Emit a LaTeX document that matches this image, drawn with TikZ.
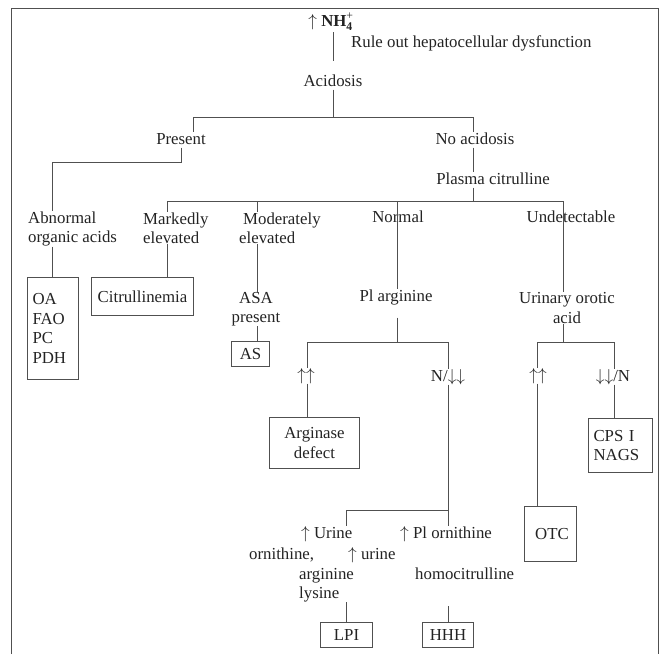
\documentclass[tikz,border=0pt]{standalone}
\usepackage{amsmath}
\usepackage{fontspec}
\setmainfont{Liberation Serif}
\usepackage{xcolor}
\definecolor{ink}{RGB}{35, 35, 35}
\definecolor{wire}{RGB}{80, 80, 80}
\usetikzlibrary{positioning}

\begin{document}
\begin{tikzpicture}[x=1pt, y=-1pt,
  every node/.style={font=\fontsize{16.8}{19.5}\selectfont, text=ink, inner sep=0pt},
  txt/.style={text height=11.5pt, text depth=3.5pt},
  box/.style={draw=wire, line width=1pt, inner xsep=5pt, inner ysep=3pt, anchor=north west},
  link/.style={draw=wire, line width=1pt}]
  \useasboundingbox (0,0) rectangle (660,654);
  % frame, open at the bottom
  \draw[link] (11,654) -- (11,8) -- (658,8) -- (658,654);

  % top of the tree
  \node[txt] (nh4) at (331,22) {$\uparrow$ \textbf{NH}$_{\textbf{4}}^{\text{+}}$};
  \node[txt, anchor=west] (rule) at (351,43) {Rule out hepatocellular dysfunction};
  \node[txt] (acid) at (333,82) {Acidosis};
  \node[txt] (present) at (181,140) {Present};
  \node[txt] (noacid) at (475,140) {No acidosis};
  \node[txt] (plasma) at (493,180) {Plasma citrulline};

  % plasma citrulline classes
  \node[align=left, anchor=west] (abn) at (28,229) {Abnormal\\organic acids};
  \node[align=left, anchor=west] (marked) at (143,228) {Markedly\\elevated};
  \node[align=left, anchor=west] (moder) at (239,228) {\hspace*{4pt}Moderately\\elevated};
  \node[txt] (normal) at (398,218) {Normal};
  \node[txt] (undet) at (571,218) {Undetectable};

  \node[box, text width=41pt, minimum height=102, align=left] (oa) at (27,277) {OA\\FAO\\PC\\PDH};
  \node[box, minimum width=102, minimum height=38] (cit) at (91,277) {Citrullinemia};
  \node[align=center] (asa) at (256,309) {ASA\\present};
  \node[box, minimum width=38, minimum height=25] (as) at (231,341) {AS};
  \node[txt] (plarg) at (396,297) {Pl arginine};
  \node[align=center] (uo) at (567,308) {Urinary orotic\\acid};

  % arginine and orotic acid results
  \node[txt] (upup1) at (306,376) {$\uparrow\uparrow$};
  \node[txt] (ndd) at (448,377) {N/$\downarrow\downarrow$};
  \node[box, minimum width=90, minimum height=51, align=center] (argdef) at (269,417) {Arginase\\defect};
  \node[txt] (upup2) at (538,376) {$\uparrow\uparrow$};
  \node[txt] (ddn) at (613,377) {$\downarrow\downarrow$/N};
  \node[box, text width=54pt, minimum height=54, align=left] (cps) at (588,418) {CPS I\\NAGS};
  \node[box, minimum width=52, minimum height=55] (otc) at (524,506) {\hspace*{3pt}OTC};

  % urine / plasma ornithine
  \node[txt, anchor=west] (urine1) at (301,534) {$\uparrow$ Urine};
  \node[txt, anchor=west] (orn) at (249,555) {ornithine,};
  \node[txt, anchor=west] (urine2) at (348,555) {$\uparrow$ urine};
  \node[txt, anchor=west] (argi) at (299,575) {arginine};
  \node[txt, anchor=west] (lys) at (299,594) {lysine};
  \node[txt, anchor=west] (plorn) at (400,534) {$\uparrow$ Pl ornithine};
  \node[txt, anchor=west] (homo) at (415,575) {homocitrulline};
  \node[box, minimum width=52, minimum height=25] (lpi) at (320,622) {LPI};
  \node[box, minimum width=51, minimum height=25] (hhh) at (422,622) {HHH};

  % bus points
  \coordinate (b1) at (333,117);
  \coordinate (b1l) at (193,117);
  \coordinate (b1r) at (473,117);
  \coordinate (b0) at (52,162);
  \coordinate (b2) at (473,201);
  \coordinate (dmark) at (167,201);
  \coordinate (dmod) at (257,201);
  \coordinate (dnorm) at (397,201);
  \coordinate (dund) at (563,201);
  \coordinate (b3) at (397,342);
  \coordinate (b3l) at (307,342);
  \coordinate (b3r) at (448,342);
  \coordinate (b5) at (563,342);
  \coordinate (b5l) at (537,342);
  \coordinate (b5r) at (614,342);
  \coordinate (b4l) at (346,510);
  \coordinate (b4r) at (448,510);

  % connectors
  \draw[link, shorten <=2.5pt, shorten >=13.5pt] (acid.north |- nh4.south) -- (acid.north);
  \draw[link] (acid.south) -- (b1);
  \draw[link] (b1l) -- (b1r);
  \draw[link] (b1l) -- (b1l |- present.north);
  \draw[link] (b1r) -- (b1r |- noacid.north);
  \draw[link] (present.south) |- (b0) -- (b0 |- abn.north);
  \draw[link] (b1r |- noacid.south) -- (b1r |- plasma.north);
  \draw[link] (b2 |- plasma.south) -- (b2);
  \draw[link] (dmark) -- (dund);
  \draw[link] (dmark) -- (dmark |- marked.north);
  \draw[link] (dmod) -- (dmod |- moder.north);
  \draw[link] (dnorm) -- (dnorm |- plarg.north);
  \draw[link] (dund) -- (dund |- uo.north);

  \draw[link] (b0 |- abn.south) -- (b0 |- oa.north);
  \draw[link] (dmark |- marked.south) -- (dmark |- cit.north);
  \draw[link] (dmod |- moder.south) -- (dmod |- asa.north);
  \draw[link] (dmod |- asa.south) -- (dmod |- as.north);

  \draw[link, shorten <=13pt] (dnorm |- plarg.south) -- (b3);
  \draw[link] (b3l) -- (b3r);
  \draw[link] (b3l) -- (b3l |- upup1.north);
  \draw[link] (b3r) -- (b3r |- ndd.north);
  \draw[link] (b3l |- upup1.south) -- (b3l |- argdef.north);
  \draw[link] (b3r |- ndd.south) -- (b4r);
  \draw[link] (b4r) -- (b4l) -- (b4l |- urine1.north);
  \draw[link] (b4r) -- (b4r |- plorn.north);

  \draw[link] (dund |- uo.south) -- (b5);
  \draw[link] (b5l) -- (b5r);
  \draw[link] (b5l) -- (b5l |- upup2.north);
  \draw[link] (b5r) -- (b5r |- ddn.north);
  \draw[link] (b5l |- upup2.south) -- (b5l |- otc.north);
  \draw[link] (b5r |- ddn.south) -- (b5r |- cps.north);

  \draw[link] (lpi.north) -- (lpi.north |- lys.south);
  \draw[link, shorten >=23pt] (hhh.north) -- (hhh.north |- homo.south);
\end{tikzpicture}
\end{document}
